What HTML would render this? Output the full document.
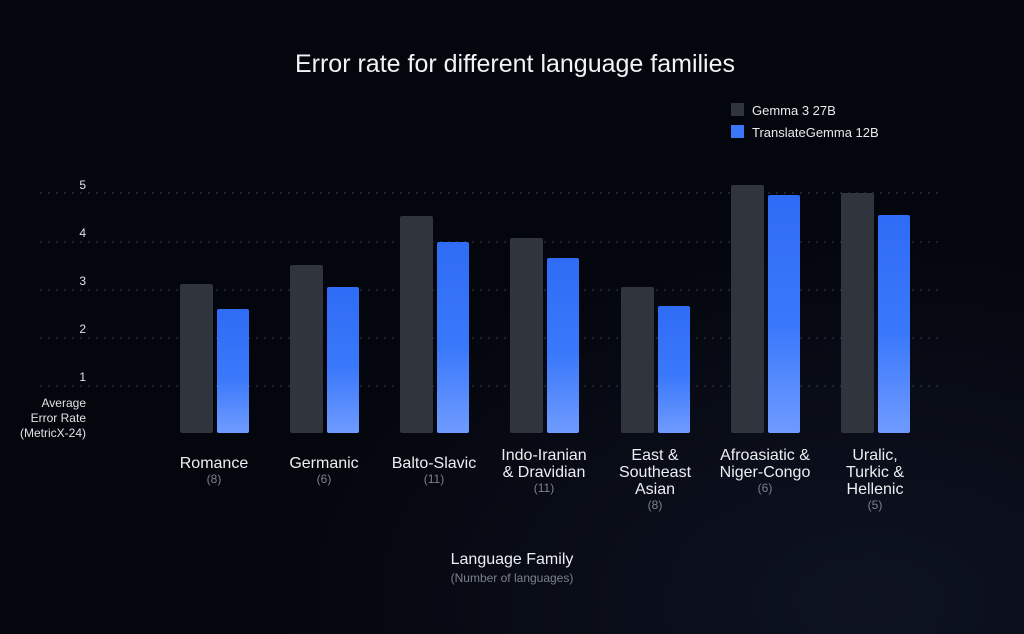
<!DOCTYPE html>
<html><head><meta charset="utf-8"><style>
body{margin:0;width:1024px;height:634px;overflow:hidden;background:#04060d;font-family:"Liberation Sans",sans-serif;}
svg{display:block}
</style></head><body>
<svg width="1024" height="634" viewBox="0 0 1024 634">
<defs>
<linearGradient id="bl" x1="0" y1="0" x2="0" y2="1"><stop offset="0" stop-color="#2f6cf5"/><stop offset="0.55" stop-color="#3a78fb"/><stop offset="1" stop-color="#6f9bff"/></linearGradient>
<radialGradient id="bg" cx="0.85" cy="0.95" r="0.6"><stop offset="0" stop-color="#0e1322"/><stop offset="1" stop-color="#04060d"/></radialGradient>
</defs>
<rect width="1024" height="634" fill="url(#bg)"/>
<text x="515" y="72" fill="#f2f3f5" font-size="25" text-anchor="middle">Error rate for different language families</text>
<rect x="731" y="103" width="13" height="13" fill="#30343d"/>
<text x="752" y="115" fill="#e8e9ec" font-size="13">Gemma 3 27B</text>
<rect x="731" y="125" width="13" height="13" fill="#3a76f8"/>
<text x="752" y="137" fill="#e8e9ec" font-size="13">TranslateGemma 12B</text>
<g stroke="#3a3f4a" stroke-width="1" stroke-dasharray="2,6">
<line x1="40" y1="193" x2="940" y2="193"/><line x1="40" y1="242" x2="940" y2="242"/><line x1="40" y1="290" x2="940" y2="290"/><line x1="40" y1="338" x2="940" y2="338"/><line x1="40" y1="386" x2="940" y2="386"/>
</g>
<g fill="#e0e2e6" font-size="12" text-anchor="end">
<text x="86" y="189">5</text><text x="86" y="237">4</text><text x="86" y="285">3</text><text x="86" y="333">2</text><text x="86" y="381">1</text>
<text x="86" y="407">Average</text><text x="86" y="422">Error Rate</text><text x="86" y="437">(MetricX-24)</text>
</g>
<g fill="#30343d">
<rect x="180" y="284" width="33" height="149" rx="2"/><rect x="290" y="265" width="33" height="168" rx="2"/><rect x="400" y="216" width="33" height="217" rx="2"/><rect x="510" y="238" width="33" height="195" rx="2"/><rect x="621" y="287" width="33" height="146" rx="2"/><rect x="731" y="185" width="33" height="248" rx="2"/><rect x="841" y="193" width="33" height="240" rx="2"/>
</g>
<g fill="url(#bl)">
<rect x="217" y="309" width="32" height="124" rx="2"/><rect x="327" y="287" width="32" height="146" rx="2"/><rect x="437" y="242" width="32" height="191" rx="2"/><rect x="547" y="258" width="32" height="175" rx="2"/><rect x="658" y="306" width="32" height="127" rx="2"/><rect x="768" y="195" width="32" height="238" rx="2"/><rect x="878" y="215" width="32" height="218" rx="2"/>
</g>
<g fill="#eceef1" font-size="16" text-anchor="middle">
<text x="214" y="468">Romance</text>
<text x="324" y="468">Germanic</text>
<text x="434" y="468">Balto-Slavic</text>
<text x="544" y="460">Indo-Iranian</text><text x="544" y="477">&amp; Dravidian</text>
<text x="655" y="460">East &amp;</text><text x="655" y="477">Southeast</text><text x="655" y="494">Asian</text>
<text x="765" y="460">Afroasiatic &amp;</text><text x="765" y="477">Niger-Congo</text>
<text x="875" y="460">Uralic,</text><text x="875" y="477">Turkic &amp;</text><text x="875" y="494">Hellenic</text>
<text x="512" y="564">Language Family</text>
</g>
<g fill="#7d818b" font-size="12" text-anchor="middle">
<text x="214" y="483">(8)</text><text x="324" y="483">(6)</text><text x="434" y="483">(11)</text><text x="544" y="492">(11)</text><text x="655" y="509">(8)</text><text x="765" y="492">(6)</text><text x="875" y="509">(5)</text>
<text x="512" y="582">(Number of languages)</text>
</g>
</svg>
</body></html>
